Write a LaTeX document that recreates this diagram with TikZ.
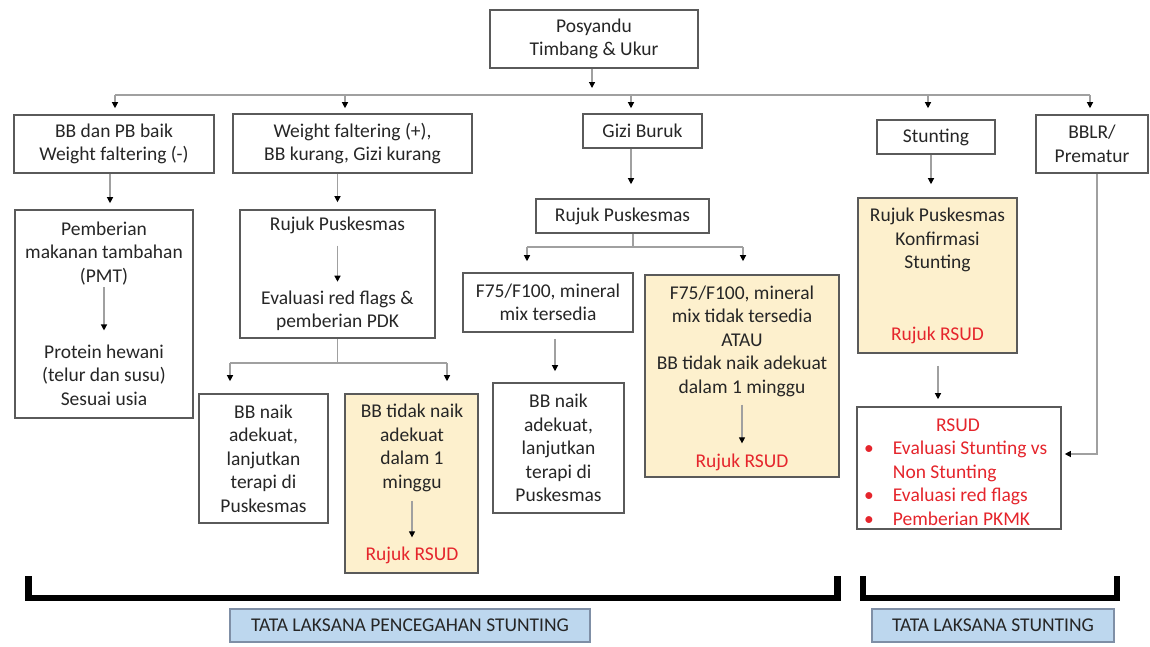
\documentclass[tikz,border=0pt]{standalone}
\usepackage{fontspec}
\setmainfont{Carlito}
\usetikzlibrary{arrows.meta}
\definecolor{boxgray}{HTML}{5A5A5A}
\definecolor{linegray}{HTML}{A0A0A0}
\definecolor{cream}{HTML}{FDF0CD}
\definecolor{lblue}{HTML}{BDD7EE}
\definecolor{lblueborder}{HTML}{7F8FA6}
\definecolor{rtext}{HTML}{E5252C}
\definecolor{dtext}{HTML}{262626}
\tikzset{
  wbox/.style 2 args={draw=boxgray, line width=1.6pt, fill=white, minimum width=#1, minimum height=#2, inner sep=0pt, align=center},
  ybox/.style 2 args={wbox={#1}{#2}, fill=cream},
  txt/.style={inner sep=0pt, align=center},
  rtxt/.style={txt, text=rtext},
  conn/.style={draw=linegray, line width=1.2pt},
  arr/.style={conn, -{Triangle[length=6pt,width=6pt,color=black]}},
  brk/.style={line width=6.5pt, line cap=butt, line join=miter, draw=black},
  lbl/.style={draw=lblueborder, fill=lblue, line width=1.4pt, inner sep=0pt}
}
\begin{document}
\begin{tikzpicture}[x=1pt, y=-1pt, font=\fontsize{19.5}{23.5}\selectfont, text=dtext]
\useasboundingbox[fill=white] (0,0) rectangle (1150,646);

% top
\node[wbox={208pt}{58pt}] (pos) at (594,39) {Posyandu\\Timbang \& Ukur};
\coordinate (posend) at (592,88);
\draw[arr] (pos.south -| posend) -- (posend);

\node[wbox={200pt}{58pt}] (b1) at (114,144) {BB dan PB baik\\Weight faltering (-)};
\node[wbox={239pt}{59pt}] (b2) at (352.5,143.5) {Weight faltering (+),\\BB kurang, Gizi kurang};
\node[wbox={119pt}{34pt}] (b3) at (642.5,131) {Gizi Buruk};
\node[wbox={118pt}{34pt}] (b4) at (936,137) {Stunting};
\node[wbox={112pt}{58pt}] (b5) at (1092,144) {BBLR/\\Prematur};

\coordinate (busL) at (115,95);
\coordinate (busR) at (1090,95);
\coordinate (d2) at (345,95);
\coordinate (d3) at (631,95);
\coordinate (d4) at (928,95);
\draw[conn] (busL) -- (busR);
\draw[arr, shorten >=6pt] (busL) -- (busL |- b1.north);
\draw[arr, shorten >=5pt] (d2) -- (d2 |- b2.north);
\draw[arr, shorten >=5pt] (d3) -- (d3 |- b3.north);
\draw[arr, shorten >=11pt] (d4) -- (d4 |- b4.north);
\draw[arr, shorten >=6pt] (busR) -- (busR |- b5.north);

% column 1
\node[wbox={178pt}{208pt}] (pmt) at (104,314) {};
\node[txt] (pmt1) at (104,253.5) {Pemberian\\makanan tambahan\\(PMT)};
\node[txt] (pmt2) at (104,375) {Protein hewani\\(telur dan susu)\\Sesuai usia};
\draw[arr, shorten <=2pt, shorten >=14pt] (pmt1) -- (pmt2);
\draw[arr, shorten >=6pt] ([xshift=-4pt]b1.south) -- ([xshift=-4pt]b1.south |- pmt.north);

% column 2
\node[wbox={195pt}{128pt}] (r2) at (337.5,274) {};
\node[txt] (r2a) at (337.5,225) {Rujuk Puskesmas};
\node[txt] (r2b) at (337.5,311) {Evaluasi red flags \&\\pemberian PDK};
\draw[arr, shorten <=12pt, shorten >=9pt] (r2a) -- (r2b);
\draw[arr, shorten >=7pt] (b2.south -| r2.north) -- (r2.north);
\coordinate (s2) at (337.5,363);
\coordinate (s2L) at (230,363);
\coordinate (s2R) at (447,363);
\draw[conn] (r2.south) -- (s2);
\draw[conn] (s2L) -- (s2R);
\node[wbox={129pt}{129pt}] (c2a) at (263.5,458.5) {BB naik\\adekuat,\\lanjutkan\\terapi di\\Puskesmas};
\node[ybox={133pt}{179pt}] (c2b) at (411.5,483.5) {};
\node[txt] (c2b1) at (412,448) {BB tidak naik\\adekuat\\dalam 1\\minggu};
\node[rtxt] (c2b2) at (412,555) {Rujuk RSUD};
\draw[arr, shorten <=9pt, shorten >=9pt] (c2b1) -- (c2b2);
\draw[arr, shorten >=12pt] (s2L) -- (s2L |- c2a.north);
\draw[arr, shorten >=12pt] (s2R) -- (s2R |- c2b.north);

% column 3
\node[wbox={173pt}{34pt}] (r3) at (622.5,216) {Rujuk Puskesmas};
\draw[arr, shorten >=14pt] ([xshift=-11.5pt]b3.south) -- ([xshift=-11.5pt]b3.south |- r3.north);
\coordinate (s3) at (633,247);
\coordinate (s3L) at (527,247);
\coordinate (s3R) at (743,247);
\draw[conn] (r3.south -| s3) -- (s3);
\draw[conn] (s3L) -- (s3R);
\node[wbox={170pt}{59pt}] (c3a) at (548,302.5) {F75/F100, mineral\\mix tersedia};
\node[ybox={194pt}{202pt}] (c3b) at (742,376) {};
\node[txt] (c3b1) at (742,341) {F75/F100, mineral\\mix tidak tersedia\\ATAU\\BB tidak naik adekuat\\dalam 1 minggu};
\node[rtxt] (c3b2) at (742,462) {Rujuk RSUD};
\draw[arr, shorten <=8pt, shorten >=10pt] (c3b1) -- (c3b2);
\draw[arr, shorten >=11pt] (s3L) -- (s3L |- c3a.north);
\draw[arr, shorten >=13pt] (s3R) -- (s3R |- c3b.north);
\node[wbox={131pt}{130pt}] (c3d) at (558.5,448) {BB naik\\adekuat,\\lanjutkan\\terapi di\\Puskesmas};
\draw[arr, shorten <=6pt, shorten >=11pt] ([xshift=7pt]c3a.south) -- ([xshift=7pt]c3a.south |- c3d.north);

% column 4
\node[ybox={159pt}{155pt}] (sb) at (937.5,275.5) {};
\node[txt] (sb1) at (937.5,240) {Rujuk Puskesmas\\Konfirmasi\\Stunting};
\node[rtxt] (sb2) at (937.5,335) {Rujuk RSUD};
\draw[arr, shorten >=13pt] ([xshift=-5pt]b4.south) -- ([xshift=-5pt]b4.south |- sb.north);
\node[wbox={204pt}{122pt}] (rs) at (959,468) {};
\node[rtxt] (rs1) at (958,425) {RSUD};
\node[anchor=north west, inner sep=0pt, text=rtext] (rs2) at (864,438) {\begin{tabular}{@{}l@{\hspace{19pt}}l@{}}\textbullet & Evaluasi Stunting vs\\ & Non Stunting\\ \textbullet & Evaluasi red flags\\ \textbullet & Pemberian PKMK\end{tabular}};
\draw[arr, shorten <=12pt, shorten >=7pt] ([xshift=0.5pt]sb.south) -- ([xshift=0.5pt]sb.south |- rs.north);
\coordinate (bl) at (1097,454);
\draw[arr, shorten >=3pt] ([xshift=5pt]b5.south) -- (bl) -- (bl -| rs.east);

% brackets
\draw[brk] (28.5,576) -- (28.5,598) -- (837.5,598) -- (837.5,576);
\draw[brk] (863,576) -- (863,598) -- (1117,598) -- (1117,576);

% labels
\node[lbl, minimum width=360pt, minimum height=33pt] (l1) at (410,625.5) {TATA LAKSANA PENCEGAHAN STUNTING};
\node[lbl, minimum width=242pt, minimum height=33pt] (l2) at (993,625.5) {TATA LAKSANA STUNTING};
\end{tikzpicture}
\end{document}
